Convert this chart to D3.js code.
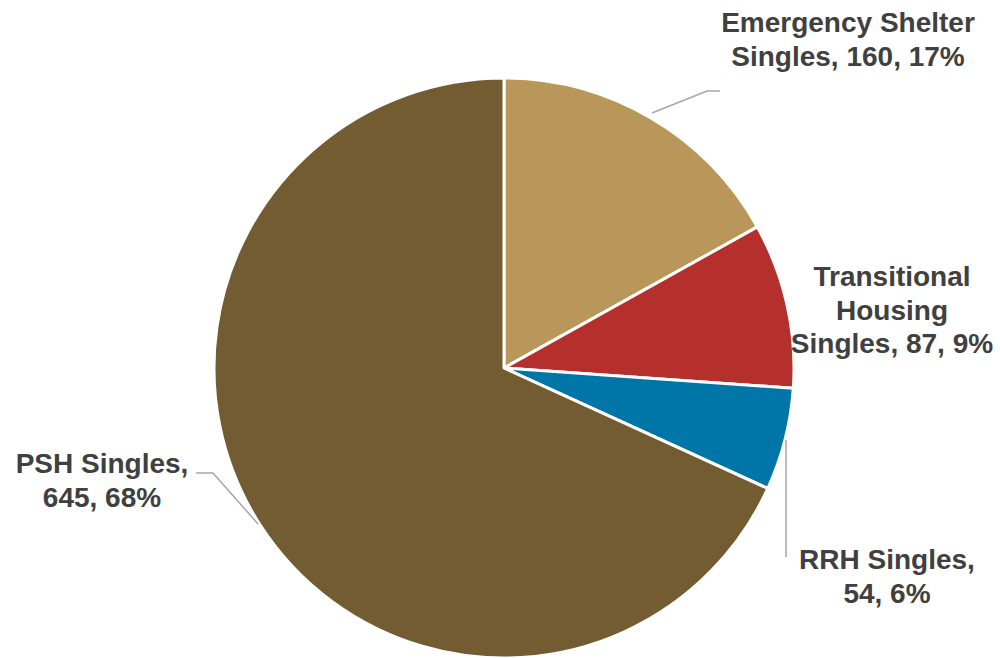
<!DOCTYPE html>
<html><head><meta charset="utf-8">
<script src="https://cdn.jsdelivr.net/npm/d3@7"></script>
<style>body{margin:0;background:#fff}svg{display:block}</style>
</head><body>
<svg id="c" width="1000" height="658"></svg>
<script>
const categories = ["Emergency Shelter Singles", "Transitional Housing Singles", "RRH Singles", "PSH Singles"];
const values = [160, 87, 54, 645];
const percents = ["17%", "9%", "6%", "68%"];
const colors = ["#B9975B", "#B5302D", "#0075A8", "#735B32"];
const labelLines = [
  ["Emergency Shelter", "Singles, 160, 17%"],
  ["Transitional", "Housing", "Singles, 87, 9%"],
  ["RRH Singles,", "54, 6%"],
  ["PSH Singles,", "645, 68%"]
];

const svg = d3.select("#c");
const cx = 504, cy = 368, r = 290;
const pie = d3.pie().sort(null).value(d => d)(values);
const arc = d3.arc().innerRadius(0).outerRadius(r);
const g = svg.append("g").attr("transform", `translate(${cx},${cy})`);
g.selectAll("path").data(pie).join("path")
  .attr("d", arc)
  .attr("fill", (d, i) => colors[i])
  .attr("stroke", "#fff").attr("stroke-width", 3).attr("stroke-linejoin", "round");

// leader lines
const leaders = [
  [[652,113],[707,91],[720,91]],
  null,
  [[786,440],[786,557]],
  [[258,524],[213,473],[196,473]]
];
leaders.forEach(pts => {
  if (!pts) return;
  svg.append("path").attr("d", d3.line()(pts))
    .attr("fill", "none").attr("stroke", "#A6A6A6").attr("stroke-width", 1.5);
});

const labelPos = [
  {x: 848, y: 32},
  {x: 892, y: 286},
  {x: 887, y: 569},
  {x: 102, y: 473}
];
labelLines.forEach((lines, i) => {
  const t = svg.append("text")
    .attr("x", labelPos[i].x).attr("y", labelPos[i].y)
    .attr("text-anchor", "middle")
    .attr("font-family", "Liberation Sans, Arial, sans-serif")
    .attr("font-weight", "bold").attr("font-size", 28)
    .attr("fill", "#404040");
  lines.forEach((l, j) => t.append("tspan").attr("x", labelPos[i].x).attr("dy", j ? 33.5 : 0).text(l));
});
</script>
</body></html>
